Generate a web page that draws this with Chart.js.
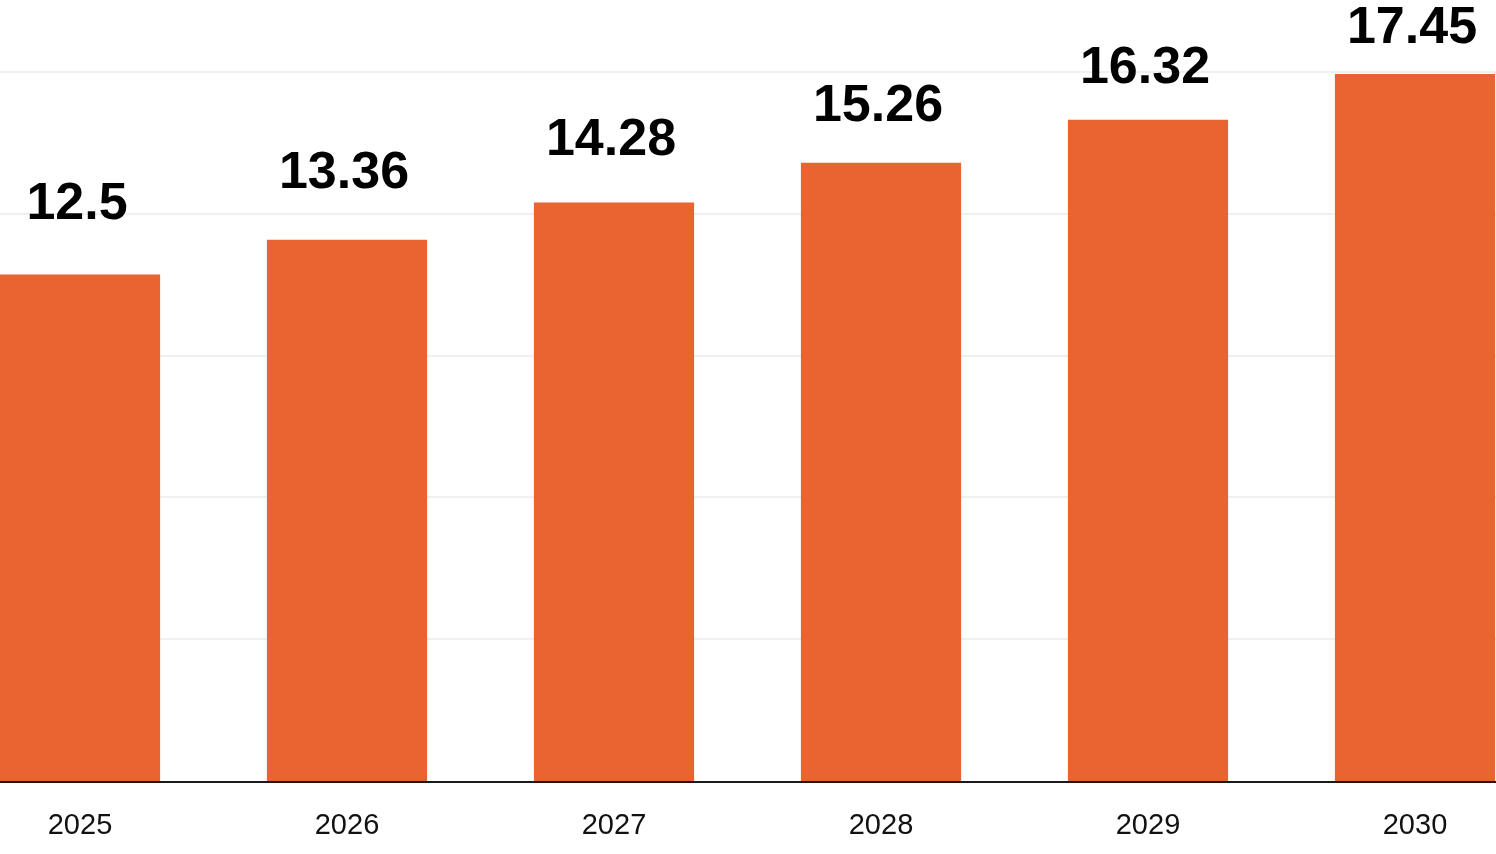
<!DOCTYPE html>
<html>
<head>
<meta charset="utf-8">
<script src="https://cdn.jsdelivr.net/npm/chart.js@4.4.1/dist/chart.umd.min.js"></script>
<style>
  html, body { margin: 0; padding: 0; background: #fff; }
  canvas { display: block; }
</style>
</head>
<body>
<canvas id="chart" width="1496" height="854"></canvas>
<script>
const years = ["2025", "2026", "2027", "2028", "2029", "2030"];
const values = [12.5, 13.36, 14.28, 15.26, 16.32, 17.45];
const yTicks = [0, 3.5, 7, 10.5, 14, 17.5];

const barColor = "#ea6432";

// grid lines and baseline across the whole canvas, value labels over the bars
const decorations = {
  id: "decorations",
  beforeDatasetsDraw(chart) {
    const ctx = chart.ctx;
    const y = chart.scales.y;
    ctx.save();
    ctx.strokeStyle = "#f0f0f0";
    ctx.lineWidth = 2;
    yTicks.slice(1).forEach(v => {
      const py = Math.round(y.getPixelForValue(v));
      ctx.beginPath();
      ctx.moveTo(0, py);
      ctx.lineTo(chart.width, py);
      ctx.stroke();
    });
    ctx.restore();
  },
  afterDatasetsDraw(chart) {
    const ctx = chart.ctx;
    const y = chart.scales.y;
    ctx.save();
    const base = Math.round(y.getPixelForValue(0)) + 1;
    ctx.strokeStyle = "#1a1a1a";
    ctx.lineWidth = 2;
    ctx.beginPath();
    ctx.moveTo(0, base);
    ctx.lineTo(chart.width, base);
    ctx.stroke();

    ctx.fillStyle = "#000";
    ctx.font = "bold 52px 'Liberation Sans', Arial, sans-serif";
    ctx.textAlign = "center";
    ctx.textBaseline = "alphabetic";
    chart.getDatasetMeta(0).data.forEach((bar, i) => {
      // labels sit a bit higher over the shorter bars
      const gap = 31 + 5 * (y.max - values[i]);
      ctx.fillText(String(values[i]), bar.x - 3, bar.y - gap);
    });
    ctx.restore();
  }
};

new Chart(document.getElementById("chart"), {
  type: "bar",
  data: {
    labels: years,
    datasets: [{
      data: values,
      backgroundColor: barColor,
      borderWidth: 0,
      barPercentage: 0.6,
      categoryPercentage: 1,
      clip: false
    }]
  },
  options: {
    responsive: false,
    animation: false,
    devicePixelRatio: 1,
    layout: { padding: { top: 72, left: 80, right: 81, bottom: 0 } },
    plugins: {
      legend: { display: false },
      tooltip: { enabled: false }
    },
    scales: {
      x: {
        offset: false,
        afterFit(scale) { scale.height = 73; },
        grid: { display: false, drawTicks: false },
        border: { display: false },
        ticks: {
          padding: 28,
          color: "#111",
          font: { family: "'Liberation Sans', Arial, sans-serif", size: 29 },
          maxRotation: 0,
          autoSkip: false
        }
      },
      y: {
        min: 0,
        max: 17.5,
        afterFit(scale) { scale.width = 0; },
        grid: { display: false, drawTicks: false },
        border: { display: false },
        ticks: { display: false, stepSize: 3.5 }
      }
    }
  },
  plugins: [decorations]
});
</script>
</body>
</html>
